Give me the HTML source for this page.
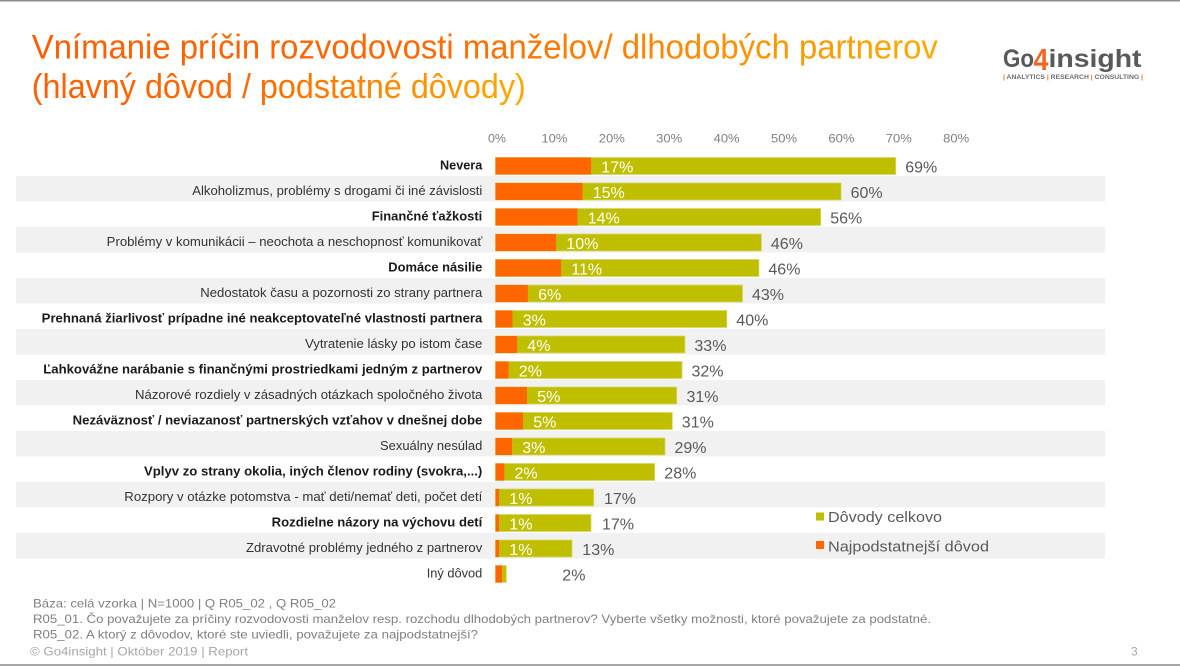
<!DOCTYPE html>
<html>
<head>
<meta charset="utf-8">
<style>
html,body{margin:0;padding:0;background:#fff;}
svg{display:block;}
text{font-family:"Liberation Sans",Arial,sans-serif;}
</style>
</head>
<body>
<svg width="1180" height="666" viewBox="0 0 1180 666" xmlns="http://www.w3.org/2000/svg">
<defs>
<linearGradient id="tg" x1="0" y1="0" x2="1" y2="0">
<stop offset="0" stop-color="#ff5e00"/>
<stop offset="0.45" stop-color="#ff6a00"/>
<stop offset="1" stop-color="#ffaa00"/>
</linearGradient>
</defs>
<rect x="0" y="0" width="1180" height="666" fill="#fff"/>
<rect x="0" y="0" width="1180" height="1.5" fill="#8c8c8c"/>
<rect x="0" y="664" width="1180" height="2" fill="#a6a6a6"/>

<!-- Title -->
<text x="31.8" y="58.6" font-size="34" fill="url(#tg)" textLength="906" lengthAdjust="spacingAndGlyphs">Vnímanie príčin rozvodovosti manželov/ dlhodobých partnerov</text>
<text x="31.8" y="97.9" font-size="34" fill="url(#tg)" textLength="494" lengthAdjust="spacingAndGlyphs">(hlavný dôvod / podstatné dôvody)</text>

<!-- Logo -->
<text x="1003" y="67" font-size="25" font-weight="bold" fill="#58595b" textLength="31" lengthAdjust="spacingAndGlyphs">Go</text>
<text x="1033.5" y="70" font-size="31" font-weight="bold" fill="#f26522" textLength="15" lengthAdjust="spacingAndGlyphs">4</text>
<text x="1048.5" y="67" font-size="25" font-weight="bold" fill="#58595b" textLength="93" lengthAdjust="spacingAndGlyphs">insight</text>
<text x="1003" y="79" font-size="6" font-weight="bold" fill="#6d6e71" textLength="140" lengthAdjust="spacingAndGlyphs"><tspan fill="#f26522">|</tspan> ANALYTICS <tspan fill="#f26522">|</tspan> RESEARCH <tspan fill="#f26522">|</tspan> CONSULTING <tspan fill="#f26522">|</tspan></text>

<!-- Axis tick labels -->
<g font-size="12" fill="#7f7f7f" text-anchor="middle">
<text x="497" y="142.5" textLength="18" lengthAdjust="spacingAndGlyphs">0%</text>
<text x="554.4" y="142.5" textLength="26" lengthAdjust="spacingAndGlyphs">10%</text>
<text x="611.8" y="142.5" textLength="26" lengthAdjust="spacingAndGlyphs">20%</text>
<text x="669.2" y="142.5" textLength="26" lengthAdjust="spacingAndGlyphs">30%</text>
<text x="726.6" y="142.5" textLength="26" lengthAdjust="spacingAndGlyphs">40%</text>
<text x="784" y="142.5" textLength="26" lengthAdjust="spacingAndGlyphs">50%</text>
<text x="841.4" y="142.5" textLength="26" lengthAdjust="spacingAndGlyphs">60%</text>
<text x="898.8" y="142.5" textLength="26" lengthAdjust="spacingAndGlyphs">70%</text>
<text x="956.2" y="142.5" textLength="26" lengthAdjust="spacingAndGlyphs">80%</text>
</g>

<!-- Row bands (odd rows) -->
<g fill="#f1f1f1">
<rect x="16" y="176" width="1089" height="25.5"/>
<rect x="16" y="227" width="1089" height="25.5"/>
<rect x="16" y="278" width="1089" height="25.5"/>
<rect x="16" y="329" width="1089" height="25.5"/>
<rect x="16" y="380" width="1089" height="25.5"/>
<rect x="16" y="431" width="1089" height="25.5"/>
<rect x="16" y="482" width="1089" height="25.5"/>
<rect x="16" y="533" width="1089" height="25.5"/>
</g>

<!-- Category labels -->
<g font-size="13" fill="#1a1a1a" text-anchor="end">
<text x="482.3" y="169.5" font-weight="bold" textLength="42.3" lengthAdjust="spacingAndGlyphs">Nevera</text>
<text x="482.3" y="195" textLength="290" lengthAdjust="spacingAndGlyphs" fill="#333">Alkoholizmus, problémy s drogami či iné závislosti</text>
<text x="482.3" y="220.5" font-weight="bold" textLength="110.6" lengthAdjust="spacingAndGlyphs">Finančné ťažkosti</text>
<text x="482.3" y="246" textLength="375.6" lengthAdjust="spacingAndGlyphs" fill="#333">Problémy v komunikácii – neochota a neschopnosť komunikovať</text>
<text x="482.3" y="271.5" font-weight="bold" textLength="94" lengthAdjust="spacingAndGlyphs">Domáce násilie</text>
<text x="482.3" y="297" textLength="282" lengthAdjust="spacingAndGlyphs" fill="#333">Nedostatok času a pozornosti zo strany partnera</text>
<text x="482.3" y="322.5" font-weight="bold" textLength="440.6" lengthAdjust="spacingAndGlyphs">Prehnaná žiarlivosť prípadne iné neakceptovateľné vlastnosti partnera</text>
<text x="482.3" y="348" textLength="177.3" lengthAdjust="spacingAndGlyphs" fill="#333">Vytratenie lásky po istom čase</text>
<text x="482.3" y="373.5" font-weight="bold" textLength="439" lengthAdjust="spacingAndGlyphs">Ľahkovážne narábanie s finančnými prostriedkami jedným z partnerov</text>
<text x="482.3" y="399" textLength="347.3" lengthAdjust="spacingAndGlyphs" fill="#333">Názorové rozdiely v zásadných otázkach spoločného života</text>
<text x="482.3" y="424.5" font-weight="bold" textLength="409.6" lengthAdjust="spacingAndGlyphs">Nezáväznosť / neviazanosť partnerských vzťahov v dnešnej dobe</text>
<text x="482.3" y="450" textLength="102.3" lengthAdjust="spacingAndGlyphs" fill="#333">Sexuálny nesúlad</text>
<text x="482.3" y="475.5" font-weight="bold" textLength="338.3" lengthAdjust="spacingAndGlyphs">Vplyv zo strany okolia, iných členov rodiny (svokra,...)</text>
<text x="482.3" y="501" textLength="358" lengthAdjust="spacingAndGlyphs" fill="#333">Rozpory v otázke potomstva - mať deti/nemať deti, počet detí</text>
<text x="482.3" y="526.5" font-weight="bold" textLength="210.6" lengthAdjust="spacingAndGlyphs">Rozdielne názory na výchovu detí</text>
<text x="482.3" y="552" textLength="236.3" lengthAdjust="spacingAndGlyphs" fill="#333">Zdravotné problémy jedného z partnerov</text>
<text x="482.3" y="577.5" textLength="55.6" lengthAdjust="spacingAndGlyphs" fill="#333">Iný dôvod</text>
</g>

<!-- Olive bars (total) -->
<g fill="#bfbf00" stroke="#d6d66a" stroke-width="0.8">
<rect x="495.5" y="157.5" width="400.2" height="17"/>
<rect x="495.5" y="183" width="345.6" height="17"/>
<rect x="495.5" y="208.5" width="325.2" height="17"/>
<rect x="495.5" y="234" width="265.9" height="17"/>
<rect x="495.5" y="259.5" width="263.4" height="17"/>
<rect x="495.5" y="285" width="247" height="17"/>
<rect x="495.5" y="310.5" width="231.3" height="17"/>
<rect x="495.5" y="336" width="189.4" height="17"/>
<rect x="495.5" y="361.5" width="186.5" height="17"/>
<rect x="495.5" y="387" width="181.2" height="17"/>
<rect x="495.5" y="412.5" width="176.8" height="17"/>
<rect x="495.5" y="438" width="169.5" height="17"/>
<rect x="495.5" y="463.5" width="159.2" height="17"/>
<rect x="495.5" y="489" width="98.2" height="17"/>
<rect x="495.5" y="514.5" width="95.5" height="17"/>
<rect x="495.5" y="540" width="76.5" height="17"/>
<rect x="495.5" y="565.5" width="10.8" height="17"/>
</g>

<!-- Orange bars (main reason) -->
<g fill="#ff6600">
<rect x="495.5" y="157.5" width="95.6" height="17"/>
<rect x="495.5" y="183" width="87" height="17"/>
<rect x="495.5" y="208.5" width="82" height="17"/>
<rect x="495.5" y="234" width="60.6" height="17"/>
<rect x="495.5" y="259.5" width="65.6" height="17"/>
<rect x="495.5" y="285" width="32.4" height="17"/>
<rect x="495.5" y="310.5" width="17" height="17"/>
<rect x="495.5" y="336" width="21.6" height="17"/>
<rect x="495.5" y="361.5" width="13.1" height="17"/>
<rect x="495.5" y="387" width="31.5" height="17"/>
<rect x="495.5" y="412.5" width="27.5" height="17"/>
<rect x="495.5" y="438" width="16.5" height="17"/>
<rect x="495.5" y="463.5" width="8.8" height="17"/>
<rect x="495.5" y="489" width="3.5" height="17"/>
<rect x="495.5" y="514.5" width="3.5" height="17"/>
<rect x="495.5" y="540" width="3.5" height="17"/>
<rect x="495.5" y="565.5" width="6.5" height="17"/>
</g>

<!-- Inner labels -->
<g font-size="16" fill="#ffffff">
<text x="601.3" y="172.5">17%</text>
<text x="592.7" y="198">15%</text>
<text x="587.7" y="223.5">14%</text>
<text x="566.3" y="249">10%</text>
<text x="571.3" y="274.5">11%</text>
<text x="538.1" y="300">6%</text>
<text x="522.7" y="325.5">3%</text>
<text x="527.3" y="351">4%</text>
<text x="518.8" y="376.5">2%</text>
<text x="537.2" y="402">5%</text>
<text x="533.2" y="427.5">5%</text>
<text x="522.2" y="453">3%</text>
<text x="514.5" y="478.5">2%</text>
<text x="509.3" y="504">1%</text>
<text x="509.3" y="529.5">1%</text>
<text x="509.3" y="555">1%</text>
</g>

<!-- Outer labels -->
<g font-size="16" fill="#595959">
<text x="905.2" y="172.5">69%</text>
<text x="850.6" y="198">60%</text>
<text x="830.2" y="223.5">56%</text>
<text x="770.9" y="249">46%</text>
<text x="768.4" y="274.5">46%</text>
<text x="752" y="300">43%</text>
<text x="736.3" y="325.5">40%</text>
<text x="694.4" y="351">33%</text>
<text x="691.5" y="376.5">32%</text>
<text x="686.5" y="402">31%</text>
<text x="681.8" y="427.5">31%</text>
<text x="674.5" y="453">29%</text>
<text x="664.3" y="478.5">28%</text>
<text x="604" y="504">17%</text>
<text x="602" y="529.5">17%</text>
<text x="582.3" y="555">13%</text>
<text x="562.3" y="580.5">2%</text>
</g>

<!-- Legend -->
<rect x="816" y="512.5" width="8" height="8" fill="#bfbf00"/>
<text x="828" y="522" font-size="15" fill="#595959" textLength="114" lengthAdjust="spacingAndGlyphs">Dôvody celkovo</text>
<rect x="816" y="541" width="8" height="8" fill="#ff6600"/>
<text x="828" y="551.5" font-size="15" fill="#595959" textLength="161" lengthAdjust="spacingAndGlyphs">Najpodstatnejší dôvod</text>

<!-- Footer -->
<g font-size="12" fill="#7f7f7f">
<text x="33" y="607.5" textLength="303" lengthAdjust="spacingAndGlyphs">Báza: celá vzorka | N=1000 | Q R05_02 , Q R05_02</text>
<text x="33" y="623" textLength="898" lengthAdjust="spacingAndGlyphs">R05_01. Čo považujete za príčiny rozvodovosti manželov resp. rozchodu dlhodobých partnerov? Vyberte všetky možnosti, ktoré považujete za podstatné.</text>
<text x="33" y="638.5" textLength="445" lengthAdjust="spacingAndGlyphs">R05_02. A ktorý z dôvodov, ktoré ste uviedli, považujete za najpodstatnejší?</text>
</g>
<text x="30" y="655.5" font-size="12" fill="#a6a6a6" textLength="218" lengthAdjust="spacingAndGlyphs">© Go4insight | Október 2019 | Report</text>
<text x="1131" y="655.5" font-size="12" fill="#a6a6a6">3</text>
</svg>
</body>
</html>
